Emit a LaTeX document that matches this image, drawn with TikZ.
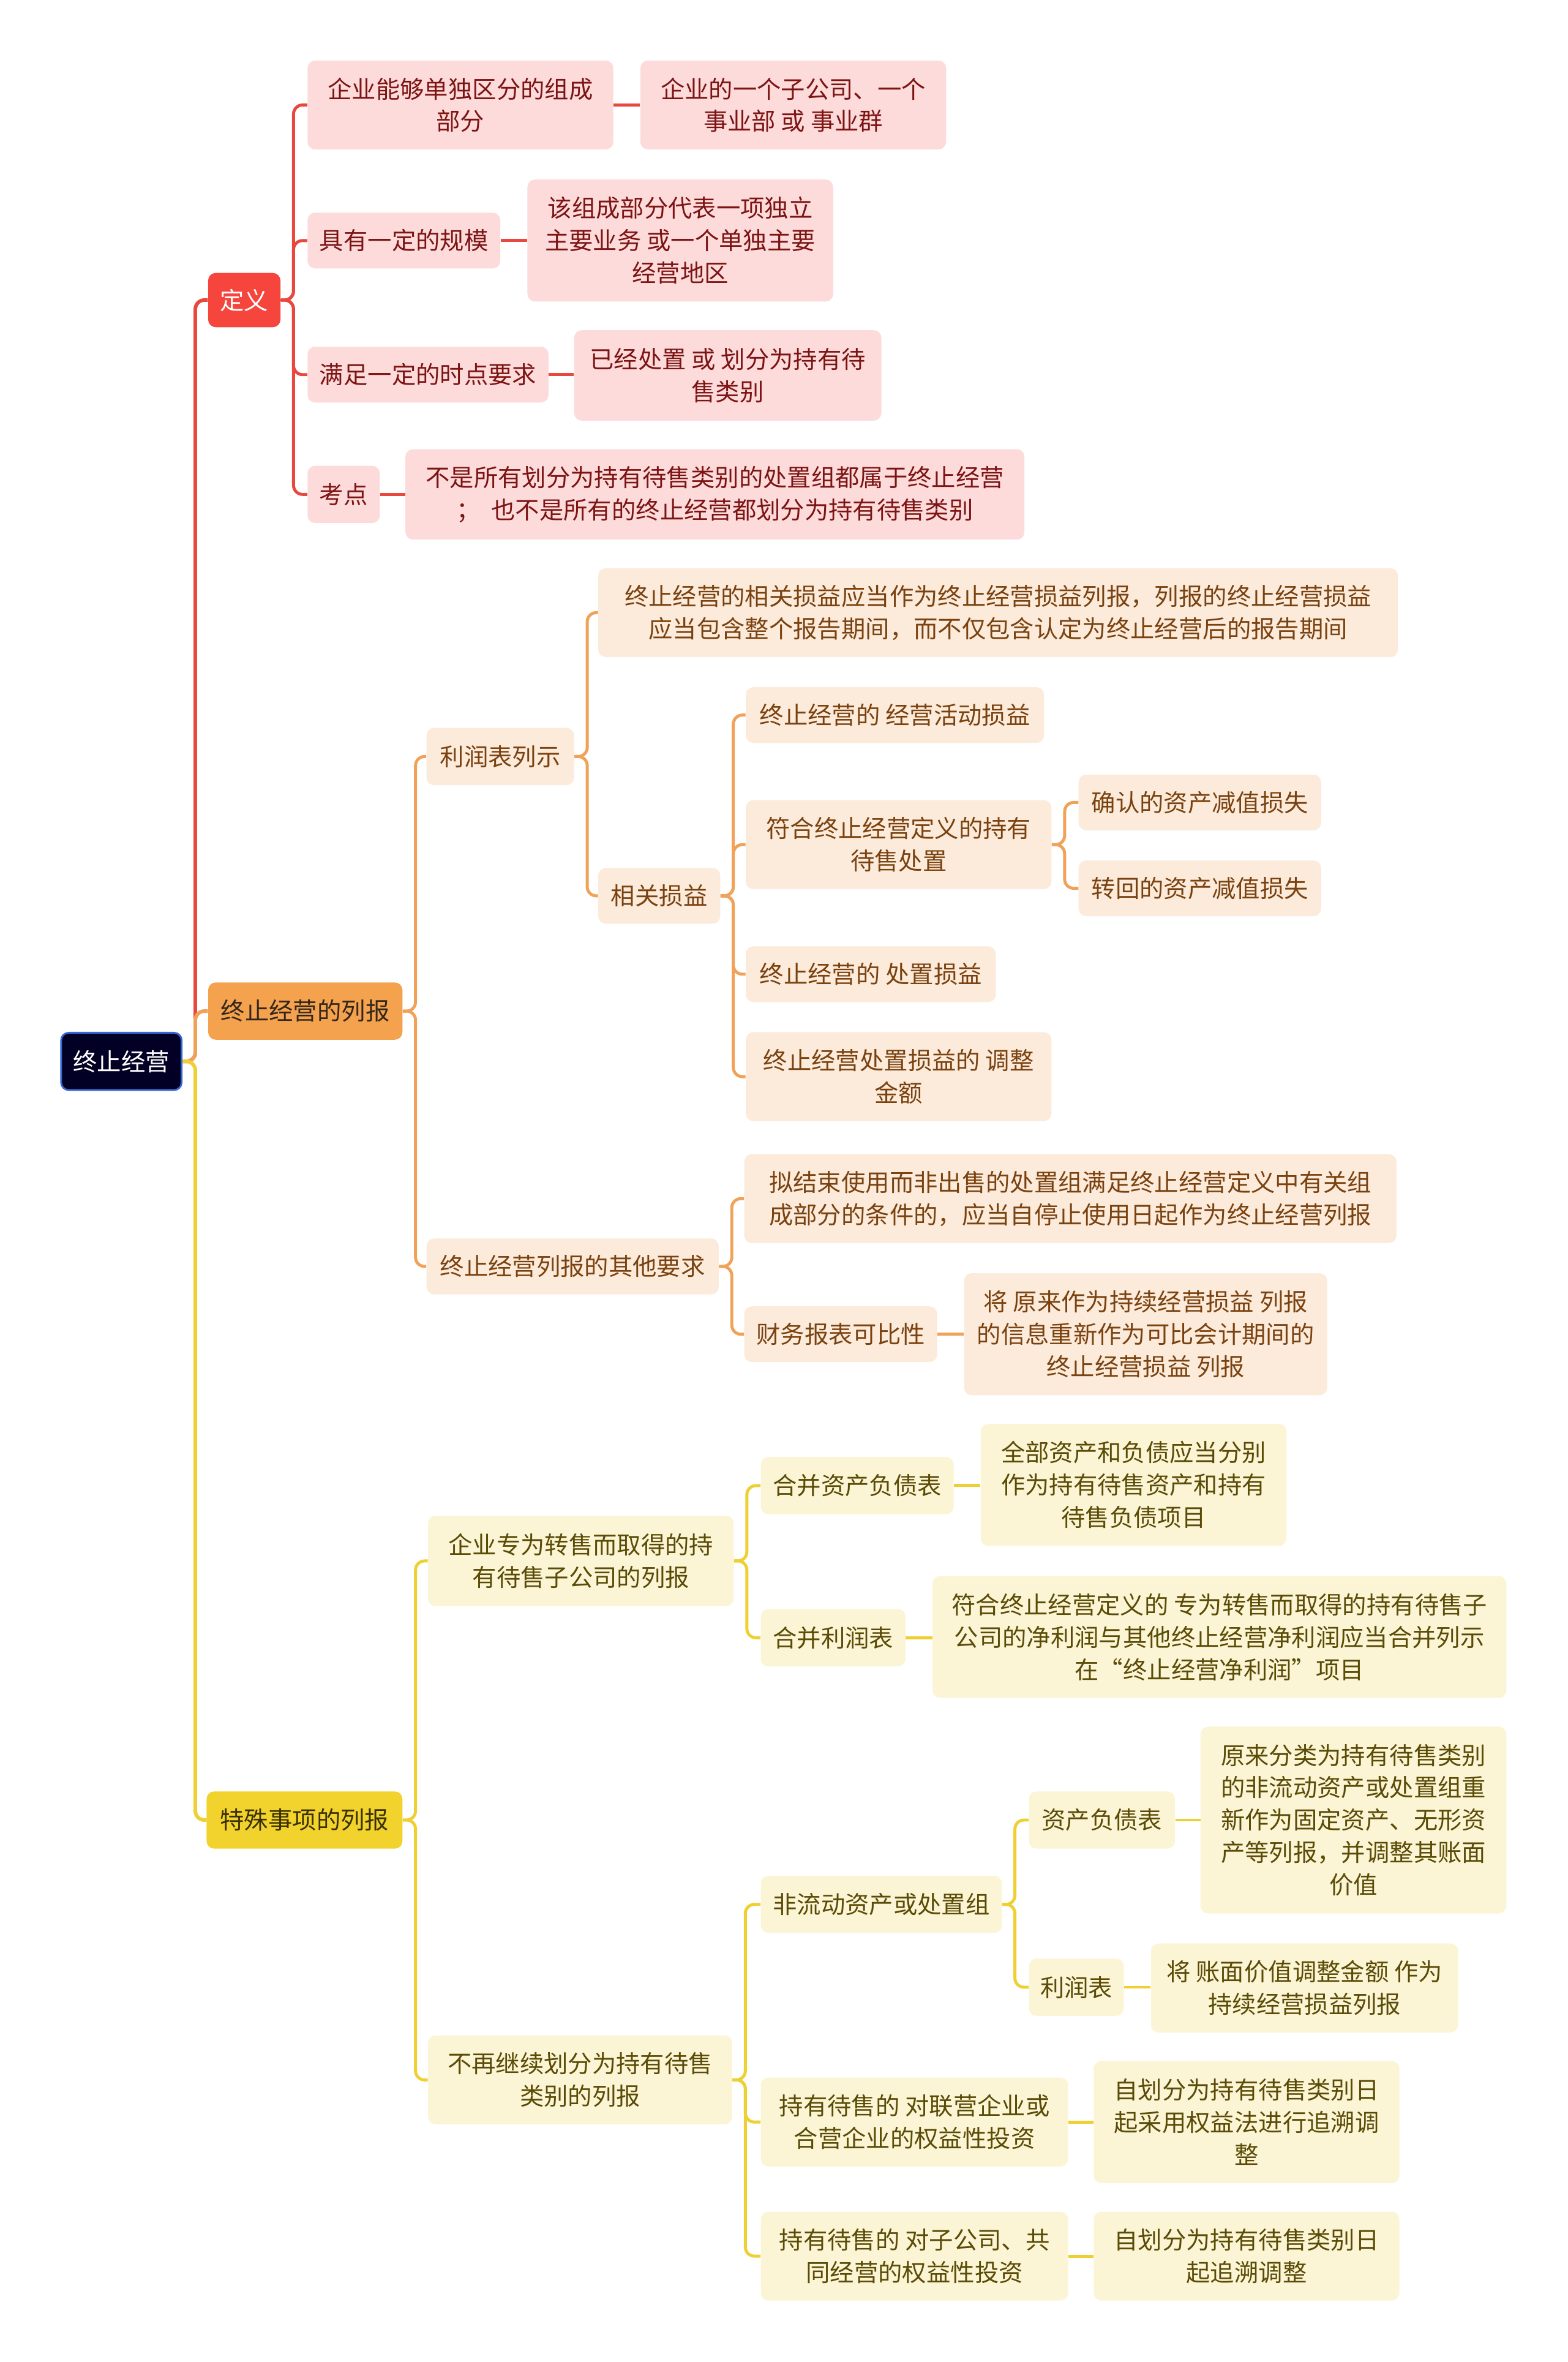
\documentclass[tikz,border=0pt]{standalone}
\usepackage{fontspec}
\setmainfont{Noto Sans CJK SC}
\definecolor{cRootFill}{HTML}{020024}
\definecolor{cRootEdge}{HTML}{3767D2}
\definecolor{cRedA}{HTML}{F5453D}
\definecolor{cRedB}{HTML}{FDDBDB}
\definecolor{cRedT}{HTML}{7D1414}
\definecolor{cRedL}{HTML}{E8483E}
\definecolor{cOrA}{HTML}{F4A24E}
\definecolor{cOrAT}{HTML}{33261A}
\definecolor{cOrB}{HTML}{FCEBDA}
\definecolor{cOrT}{HTML}{7A4210}
\definecolor{cOrL}{HTML}{F0A258}
\definecolor{cYeA}{HTML}{F2D22D}
\definecolor{cYeAT}{HTML}{3A3100}
\definecolor{cYeB}{HTML}{FCF5D5}
\definecolor{cYeT}{HTML}{5A4B06}
\definecolor{cYeL}{HTML}{EFD033}
\tikzset{
  bx/.style={rectangle, rounded corners=5pt, inner sep=0pt, anchor=north west, align=center, font=\fontsize{16}{21.5}\selectfont},
  rootbox/.style={bx, fill=cRootFill, draw=cRootEdge, line width=1.2pt, text=white},
  redone/.style={bx, fill=cRedA, text=white},
  redtwo/.style={bx, fill=cRedB, text=cRedT},
  orone/.style={bx, fill=cOrA, text=cOrAT},
  ortwo/.style={bx, fill=cOrB, text=cOrT},
  yeone/.style={bx, fill=cYeA, text=cYeAT},
  yetwo/.style={bx, fill=cYeB, text=cYeT},
  lnR/.style={draw=cRedL, line width=2pt, rounded corners=6pt},
  lnO/.style={draw=cOrL, line width=2pt, rounded corners=6pt},
  lnY/.style={draw=cYeL, line width=2pt, rounded corners=6pt},
  trunk/.style={line width=2.4pt}
}
\newcommand\conn[3]{\draw[#1] (#2.east) -- ++(8.5,0) |- (#3.west);}
\newcommand\straight[3]{\draw[#1] (#2.east) -- (#2.east -| #3.west);}
\begin{document}
\begin{tikzpicture}[x=1pt,y=-1pt]
\fill[white] (0,0) rectangle (1041,1568);
\useasboundingbox (0,0) rectangle (1041,1568);

% root and level 1
\node[rootbox, minimum width=80, minimum height=38] (root) at (40,685) {终止经营};
\node[redone, minimum width=48, minimum height=36] (def) at (138,181) {定义};
\node[orone, minimum width=129, minimum height=38] (lst) at (138,652) {终止经营的列报};
\node[yeone, minimum width=130, minimum height=38] (spc) at (137,1189) {特殊事项的列报};

% red branch
\node[redtwo, minimum width=203, minimum height=59] (r1) at (204,40) {企业能够单独区分的组成\\部分};
\node[redtwo, minimum width=203, minimum height=59] (r1a) at (425,40) {企业的一个子公司、一个\\事业部 或 事业群};
\node[redtwo, minimum width=128, minimum height=37] (r2) at (204,141) {具有一定的规模};
\node[redtwo, minimum width=203, minimum height=81] (r2a) at (350,119) {该组成部分代表一项独立\\主要业务 或一个单独主要\\经营地区};
\node[redtwo, minimum width=160, minimum height=37] (r3) at (204,230) {满足一定的时点要求};
\node[redtwo, minimum width=204, minimum height=60] (r3a) at (381,219) {已经处置 或 划分为持有待\\售类别};
\node[redtwo, minimum width=48, minimum height=38] (r4) at (204,309) {考点};
\node[redtwo, minimum width=411, minimum height=60] (r4a) at (269,298) {不是所有划分为持有待售类别的处置组都属于终止经营\\；\ \ 也不是所有的终止经营都划分为持有待售类别};

% orange branch
\node[ortwo, minimum width=98, minimum height=38] (o1) at (283,483) {利润表列示};
\node[ortwo, minimum width=531, minimum height=59] (o1a) at (397,377) {终止经营的相关损益应当作为终止经营损益列报，列报的终止经营损益\\应当包含整个报告期间，而不仅包含认定为终止经营后的报告期间};
\node[ortwo, minimum width=81, minimum height=37] (o1b) at (397,576) {相关损益};
\node[ortwo, minimum width=198, minimum height=37] (o1b1) at (495,456) {终止经营的 经营活动损益};
\node[ortwo, minimum width=203, minimum height=59] (o1b2) at (495,531) {符合终止经营定义的持有\\待售处置};
\node[ortwo, minimum width=161, minimum height=37] (o1b2a) at (716,514) {确认的资产减值损失};
\node[ortwo, minimum width=161, minimum height=37] (o1b2b) at (716,571) {转回的资产减值损失};
\node[ortwo, minimum width=166, minimum height=37] (o1b3) at (495,628) {终止经营的 处置损益};
\node[ortwo, minimum width=203, minimum height=59] (o1b4) at (495,685) {终止经营处置损益的 调整\\金额};
\node[ortwo, minimum width=194, minimum height=37] (o2) at (283,822) {终止经营列报的其他要求};
\node[ortwo, minimum width=433, minimum height=59] (o2a) at (494,766) {拟结束使用而非出售的处置组满足终止经营定义中有关组\\成部分的条件的，应当自停止使用日起作为终止经营列报};
\node[ortwo, minimum width=128, minimum height=37] (o2b) at (494,867) {财务报表可比性};
\node[ortwo, minimum width=241, minimum height=81] (o2b1) at (640,845) {将 原来作为持续经营损益 列报\\的信息重新作为可比会计期间的\\终止经营损益 列报};

% yellow branch
\node[yetwo, minimum width=203, minimum height=60] (y1) at (284,1006) {企业专为转售而取得的持\\有待售子公司的列报};
\node[yetwo, minimum width=128, minimum height=38] (y1a) at (505,967) {合并资产负债表};
\node[yetwo, minimum width=203, minimum height=81] (y1a1) at (651,945) {全部资产和负债应当分别\\作为持有待售资产和持有\\待售负债项目};
\node[yetwo, minimum width=96, minimum height=38] (y1b) at (505,1068) {合并利润表};
\node[yetwo, minimum width=381, minimum height=81] (y1b1) at (619,1046) {符合终止经营定义的 专为转售而取得的持有待售子\\公司的净利润与其他终止经营净利润应当合并列示\\在“终止经营净利润”项目};
\node[yetwo, minimum width=202, minimum height=59] (y2) at (284,1351) {不再继续划分为持有待售\\类别的列报};
\node[yetwo, minimum width=160, minimum height=38] (y2a) at (505,1245) {非流动资产或处置组};
\node[yetwo, minimum width=97, minimum height=38] (y2a1) at (683,1189) {资产负债表};
\node[yetwo, minimum width=203, minimum height=124] (y2a1x) at (797,1146) {原来分类为持有待售类别\\的非流动资产或处置组重\\新作为固定资产、无形资\\产等列报，并调整其账面\\价值};
\node[yetwo, minimum width=63, minimum height=38] (y2a2) at (683,1300) {利润表};
\node[yetwo, minimum width=204, minimum height=59] (y2a2x) at (764,1290) {将 账面价值调整金额 作为\\持续经营损益列报};
\node[yetwo, minimum width=204, minimum height=59] (y2b) at (505,1379) {持有待售的 对联营企业或\\合营企业的权益性投资};
\node[yetwo, minimum width=203, minimum height=81] (y2b1) at (726,1368) {自划分为持有待售类别日\\起采用权益法进行追溯调\\整};
\node[yetwo, minimum width=204, minimum height=59] (y2c) at (505,1468) {持有待售的 对子公司、共\\同经营的权益性投资};
\node[yetwo, minimum width=203, minimum height=59] (y2c1) at (726,1468) {自划分为持有待售类别日\\起追溯调整};

% trunk connectors
\conn{lnR,trunk}{root}{def}
\conn{lnO,trunk}{root}{lst}
\conn{lnY,trunk}{root}{spc}

% red connectors
\conn{lnR}{def}{r1}
\conn{lnR}{def}{r2}
\conn{lnR}{def}{r3}
\conn{lnR}{def}{r4}
\straight{lnR}{r1}{r1a}
\straight{lnR}{r2}{r2a}
\straight{lnR}{r3}{r3a}
\straight{lnR}{r4}{r4a}

% orange connectors
\conn{lnO}{lst}{o1}
\conn{lnO}{lst}{o2}
\conn{lnO}{o1}{o1a}
\conn{lnO}{o1}{o1b}
\conn{lnO}{o1b}{o1b1}
\conn{lnO}{o1b}{o1b2}
\conn{lnO}{o1b}{o1b3}
\conn{lnO}{o1b}{o1b4}
\conn{lnO}{o1b2}{o1b2a}
\conn{lnO}{o1b2}{o1b2b}
\conn{lnO}{o2}{o2a}
\conn{lnO}{o2}{o2b}
\straight{lnO}{o2b}{o2b1}

% yellow connectors
\conn{lnY}{spc}{y1}
\conn{lnY}{spc}{y2}
\conn{lnY}{y1}{y1a}
\conn{lnY}{y1}{y1b}
\straight{lnY}{y1a}{y1a1}
\straight{lnY}{y1b}{y1b1}
\conn{lnY}{y2}{y2a}
\conn{lnY}{y2}{y2b}
\conn{lnY}{y2}{y2c}
\conn{lnY}{y2a}{y2a1}
\conn{lnY}{y2a}{y2a2}
\straight{lnY}{y2a1}{y2a1x}
\straight{lnY}{y2a2}{y2a2x}
\straight{lnY}{y2b}{y2b1}
\straight{lnY}{y2c}{y2c1}
\end{tikzpicture}
\end{document}
